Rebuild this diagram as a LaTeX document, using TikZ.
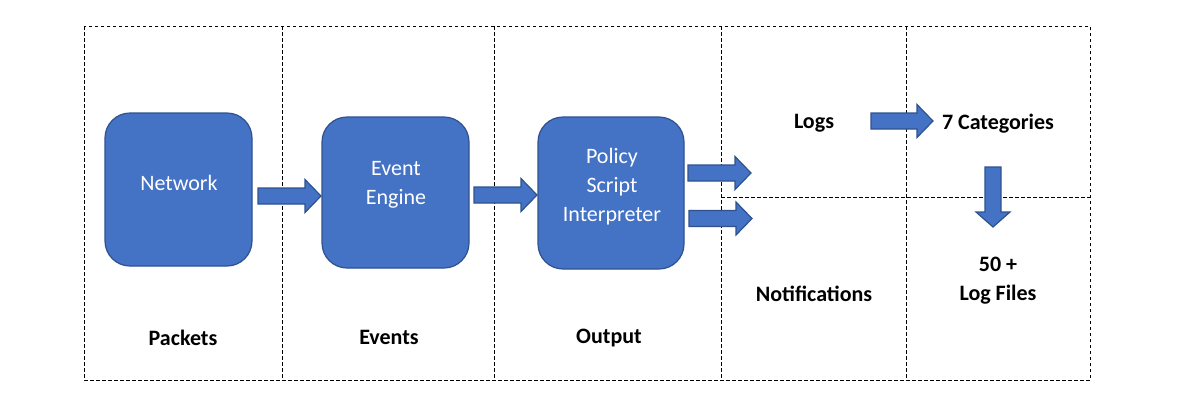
\documentclass[tikz,border=0pt]{standalone}
\usepackage{fontspec}
\setmainfont{Carlito}
\definecolor{boxfill}{HTML}{4472C4}
\definecolor{boxline}{HTML}{2F528F}
\newcommand\hbarrow[3]{%
  \draw[barrow] (#1,#3-8) -- (#2-16,#3-8) -- (#2-16,#3-16.5) -- (#2,#3)
    -- (#2-16,#3+16.5) -- (#2-16,#3+8) -- (#1,#3+8) -- cycle;}
\newcommand\vbarrow[3]{%
  \draw[barrow] (#3-8,#1) -- (#3-8,#2-15) -- (#3-17,#2-15) -- (#3,#2)
    -- (#3+17,#2-15) -- (#3+8,#2-15) -- (#3+8,#1) -- cycle;}
\begin{document}
\begin{tikzpicture}[x=1pt,y=-1pt,
  grid/.style={draw=black, line width=0.8pt, dash pattern=on 3.5pt off 2.5pt},
  procbox/.style={draw=boxline, line width=1.2pt, fill=boxfill, rounded corners=25pt,
    inner sep=0pt},
  intext/.style={text=white, align=center, font=\fontsize{22}{29}\selectfont},
  lbl/.style={text=black, align=center, font=\fontsize{22}{28.5}\selectfont\bfseries},
  barrow/.style={draw=boxline, line width=1.2pt, fill=boxfill, line join=miter}]
\useasboundingbox (0,0) rectangle (1200,408);
\fill[white] (0,0) rectangle (1200,408);
% grid
\draw[grid] (84,26) rectangle (1090,380);
\draw[grid] (282,26) -- (282,380);
\draw[grid] (494,26) -- (494,380);
\draw[grid] (721,26) -- (721,380);
\draw[grid] (906,26) -- (906,380);
\draw[grid] (721,197) -- (1090,197);
% boxes
\node[procbox, minimum width=147pt, minimum height=153pt] (net) at (178.5,189.5) {};
\node[procbox, minimum width=147pt, minimum height=151pt] (ee) at (395.5,192.5) {};
\node[procbox, minimum width=146pt, minimum height=152pt] (psi) at (611,193) {};
\node[intext] (netT) at (179,183) {Network};
\node[intext] (eeT) at (396,185) {Event\\Engine};
\node[intext] (psiT) at (612,187) {Policy\\Script\\Interpreter};
% labels
\node[lbl] (packets) at (183,337.5) {Packets};
\node[lbl] (events) at (389,337.5) {Events};
\node[lbl] (output) at (609,338) {Output};
\node[lbl] (logs) at (814,123.5) {Logs};
\node[lbl] (cats) at (998,123.5) {7 Categories};
\node[lbl] (notif) at (814,293.5) {Notifications};
\node[lbl] (files) at (998,280.5) {50 +\\Log Files};
% block arrows
\hbarrow{258}{321}{196}
\hbarrow{474}{537}{195}
\hbarrow{688}{751}{173}
\hbarrow{689}{752}{218.5}
\hbarrow{871}{933}{121}
\vbarrow{167}{227}{993}
\end{tikzpicture}
\end{document}
